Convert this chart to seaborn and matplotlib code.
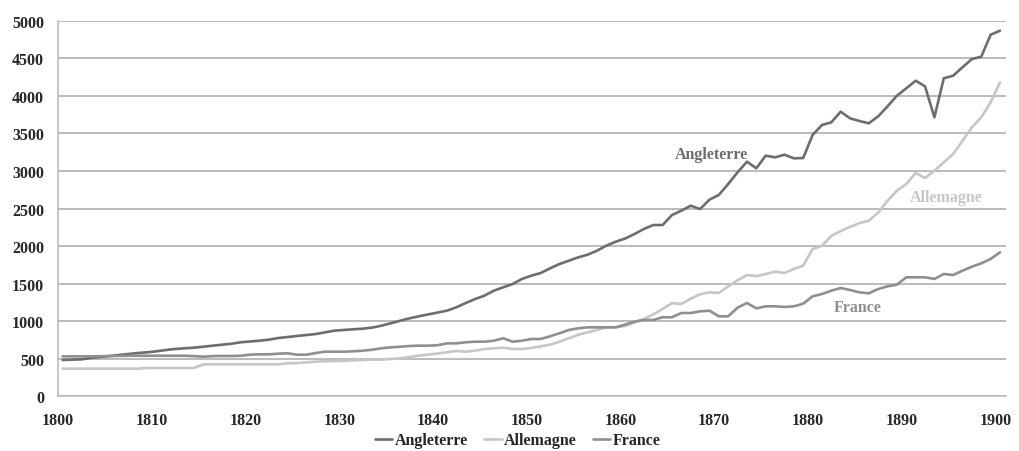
import numpy as np
import pandas as pd
import seaborn as sns
import matplotlib
matplotlib.use("Agg")
import matplotlib.pyplot as plt

years = list(range(1800, 1901))

angleterre = [483, 488, 492, 510, 523, 536, 550, 563, 576, 586,
              599, 616, 630, 639, 647, 660, 674, 687, 700, 719,
              730, 740, 754, 776, 789, 803, 816, 829, 852, 874,
              883, 892, 900, 914, 940, 972, 1006, 1038, 1065, 1090,
              1115, 1140, 1185, 1242, 1295, 1340, 1406, 1451, 1495, 1562,
              1606, 1641, 1704, 1761, 1805, 1850, 1885, 1938, 2005, 2058,
              2100, 2160, 2227, 2280, 2280, 2413, 2471, 2537, 2493, 2617,
              2680, 2826, 2982, 3123, 3035, 3203, 3181, 3216, 3168, 3172,
              3478, 3611, 3647, 3789, 3700, 3665, 3634, 3727, 3860, 4002,
              4100, 4201, 4126, 3714, 4233, 4268, 4380, 4490, 4521, 4814, 4867]

allemagne = [368, 368, 368, 368, 368, 368, 368, 368, 368, 377,
             377, 377, 377, 377, 377, 425, 426, 426, 426, 426,
             426, 426, 426, 426, 439, 443, 452, 461, 466, 470,
             470, 479, 483, 488, 488, 497, 506, 523, 541, 555,
             570, 586, 603, 594, 607, 630, 639, 647, 630, 630,
             643, 666, 687, 727, 772, 820, 852, 883, 918, 918,
             935, 985, 1029, 1090, 1162, 1240, 1229, 1300, 1358, 1384,
             1375, 1464, 1545, 1615, 1600, 1628, 1660, 1641, 1695, 1739,
             1960, 2005, 2135, 2200, 2255, 2305, 2338, 2445, 2604, 2737,
             2826, 2973, 2906, 3003, 3115, 3225, 3403, 3581, 3714, 3914, 4180]

france = [532, 532, 532, 532, 533, 535, 538, 540, 540, 540,
          540, 540, 540, 540, 535, 527, 535, 537, 537, 540,
          554, 559, 559, 567, 572, 554, 554, 576, 594, 594,
          594, 599, 607, 620, 639, 652, 660, 670, 674, 674,
          680, 705, 705, 719, 727, 727, 740, 772, 727, 740,
          763, 763, 799, 839, 883, 905, 918, 918, 918, 918,
          955, 993, 1016, 1016, 1052, 1052, 1109, 1109, 1131, 1140,
          1065, 1065, 1180, 1242, 1171, 1198, 1198, 1189, 1198, 1233,
          1331, 1362, 1406, 1442, 1415, 1384, 1371, 1428, 1464, 1486,
          1584, 1584, 1584, 1562, 1628, 1615, 1672, 1726, 1770, 1828, 1917]

series = ["Angleterre", "Allemagne", "France"]
colors = {"Angleterre": "#6d6d6d", "Allemagne": "#c6c6c6", "France": "#8f8f8f"}
tick_years = list(range(1800, 1901, 10))

df = pd.DataFrame({"year": years, "Angleterre": angleterre,
                   "Allemagne": allemagne, "France": france})
long_df = df.melt(id_vars="year", var_name="pays", value_name="valeur")

sns.set_style("white")
plt.rcParams['font.family'] = ['Liberation Serif', 'DejaVu Serif']
plt.rcParams['font.weight'] = 'bold'

fig = plt.figure(figsize=(10.19, 4.52), dpi=100)
ax = fig.add_axes([0.0569, 0.121, 0.930, 0.831])

sns.lineplot(data=long_df, x="year", y="valeur", hue="pays", hue_order=series,
             palette=colors, linewidth=1.9, ax=ax, legend=False)

ax.set_xlim(1799.5, 1900.6)
ax.set_ylim(0, 5000)
ax.set_yticks(range(0, 5001, 500))
ax.set_xticks([y - 0.5 for y in tick_years])
ax.set_xticklabels([str(y) for y in tick_years])
ax.yaxis.grid(True, color="#a8a8a8", linewidth=1.1)
ax.set_axisbelow(True)
ax.set_xlabel("")
ax.set_ylabel("")
for side in ["top", "right"]:
    ax.spines[side].set_visible(False)
for side in ["left", "bottom"]:
    ax.spines[side].set_color("#bdbdbd")
    ax.spines[side].set_linewidth(1.2)
ax.tick_params(axis="both", direction="out", length=4, color="#bdbdbd",
               labelsize=11.5)
ax.tick_params(axis="x", pad=7)
ax.tick_params(axis="y", pad=6)
for lab in ax.get_xticklabels() + ax.get_yticklabels():
    lab.set_fontweight("bold")

# etiquettes dans le graphique
ax.text(1869.2, 3225, "Angleterre", color=colors["Angleterre"], fontsize=11.5,
        fontweight="bold", ha="center", va="center")
ax.text(1894.3, 2650, "Allemagne", color=colors["Allemagne"], fontsize=11.5,
        fontweight="bold", ha="center", va="center")
ax.text(1884.8, 1190, "France", color=colors["France"], fontsize=11.5,
        fontweight="bold", ha="center", va="center")

handles = [plt.Line2D([], [], color=colors[s], linewidth=1.9) for s in series]
fig.legend(handles, series, loc="center", bbox_to_anchor=(0.508, 0.024), ncol=3,
           frameon=False, handlelength=1.1, handletextpad=0.15, columnspacing=1.0,
           borderpad=0.1, prop={"size": 11.5, "weight": "bold"})

fig.savefig("out.png", dpi=100)
